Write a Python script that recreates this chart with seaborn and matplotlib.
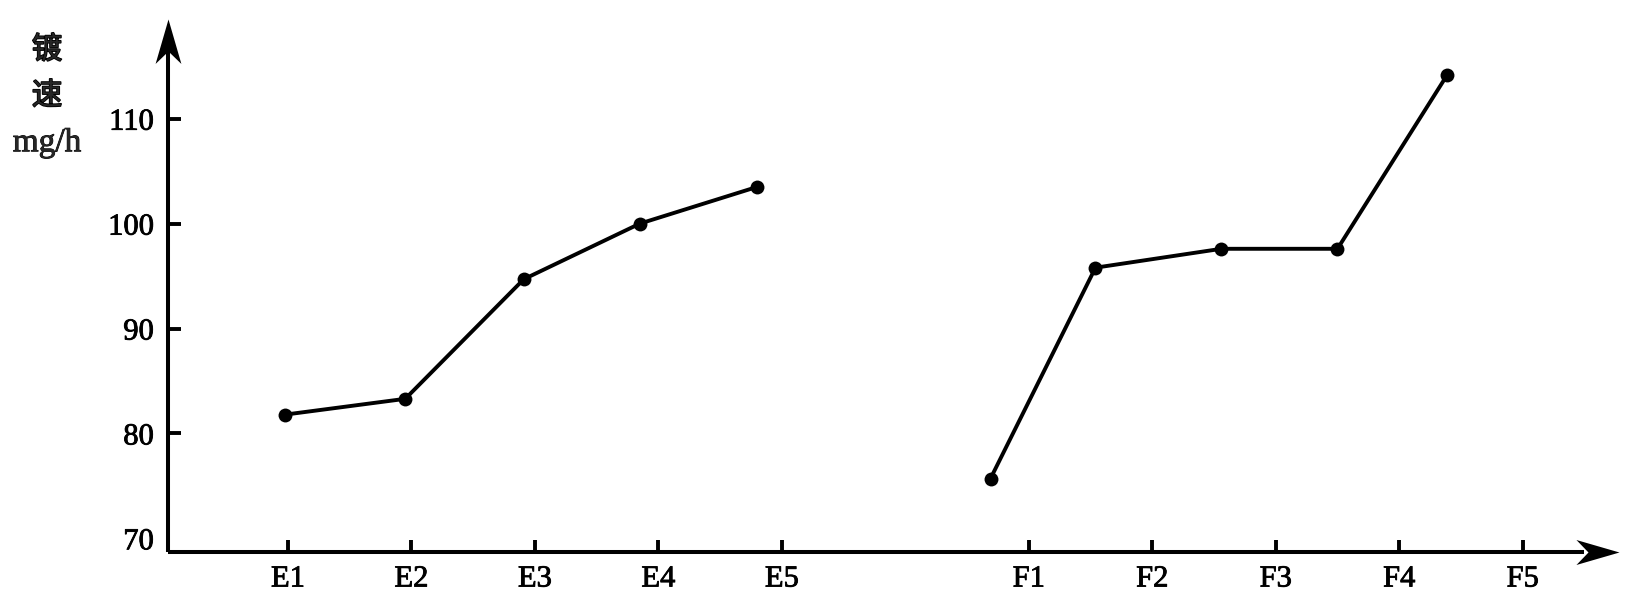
import matplotlib
matplotlib.use("Agg")
import matplotlib.pyplot as plt
import matplotlib.patheffects as pe
from matplotlib.path import Path
import seaborn as sns
import pandas as pd

# tick categories (E1..E5, gap, F1..F5)
tick_labels = ["E1", "E2", "E3", "E4", "E5", "F1", "F2", "F3", "F4", "F5"]
tick_pos = [1, 2, 3, 4, 5, 7, 8, 9, 10, 11]

# points sit a little left of their ticks
e_x = [0.98, 1.95, 2.91, 3.85, 4.80]
e_rate = [81.8, 83.3, 94.7, 100.0, 103.5]
f_x = [6.69, 7.54, 8.56, 9.50, 10.39]
f_rate = [75.7, 95.8, 97.6, 97.6, 114.2]

y_ticks = [70, 80, 90, 100, 110]

df = pd.DataFrame({
    "x": e_x + f_x,
    "rate": e_rate + f_rate,
    "group": ["E"] * len(e_x) + ["F"] * len(f_x),
})

sns.set_style("ticks")
plt.rcParams["font.family"] = ["Liberation Serif", "Noto Sans CJK SC", "DejaVu Sans"]
heavy = [pe.withStroke(linewidth=0.6, foreground="black")]

fig = plt.figure(figsize=(16.41, 6.06), dpi=100)
ax = fig.add_axes([0.1021, 0.0891, 0.8845, 0.8795])

sns.lineplot(data=df, x="x", y="rate", hue="group", palette=["black", "black"],
             units="group", estimator=None, marker="o", markersize=10,
             markeredgewidth=0, linewidth=2.8, legend=False, ax=ax)

ax.set_xlim(0.025, 11.78)
ax.set_ylim(68.7, 119.5)
ax.set_xticks(tick_pos)
ax.set_xticklabels(tick_labels)
ax.set_yticks(y_ticks)
ax.set_xlabel("")
ax.set_ylabel("")

for s in ["top", "right"]:
    ax.spines[s].set_visible(False)
for s in ["left", "bottom"]:
    ax.spines[s].set_linewidth(2.9)
    ax.spines[s].set_color("black")
    ax.spines[s].set_capstyle("butt")
ax.spines["left"].set_bounds(68.7, 117.0)
ax.spines["bottom"].set_bounds(0.025, 11.5)

ax.tick_params(axis="both", direction="in", length=9, width=2.8,
               labelsize=22, colors="black")
ax.tick_params(axis="y", pad=10)
ax.tick_params(axis="x", pad=9)
for lab in ax.get_xticklabels() + ax.get_yticklabels():
    lab.set_path_effects(heavy)
# the 70 label sits above the corner, without its own tick mark
ax.yaxis.get_major_ticks()[0].tick1line.set_visible(False)

# stealth arrow heads, tip at the origin of the marker
up = Path([(0, 0), (0.29, -1), (0, -0.72), (-0.29, -1), (0, 0)],
          [Path.MOVETO, Path.LINETO, Path.LINETO, Path.LINETO, Path.CLOSEPOLY])
right = Path([(0, 0), (-1, 0.29), (-0.72, 0), (-1, -0.29), (0, 0)],
             [Path.MOVETO, Path.LINETO, Path.LINETO, Path.LINETO, Path.CLOSEPOLY])
ax.plot([0], [1], marker=up, markersize=64, color="black", markeredgewidth=0,
        transform=ax.transAxes, clip_on=False)
ax.plot([1], [0], marker=right, markersize=62, color="black", markeredgewidth=0,
        transform=ax.transAxes, clip_on=False)

cjk_heavy = [pe.withStroke(linewidth=1.2, foreground="black")]
fig.text(47 / 1641, 1 - 50 / 606, "镀", ha="center", va="center", fontsize=22,
         family=["Noto Sans CJK SC"], path_effects=cjk_heavy)
fig.text(47 / 1641, 1 - 96 / 606, "速", ha="center", va="center", fontsize=22,
         family=["Noto Sans CJK SC"], path_effects=cjk_heavy)
fig.text(47 / 1641, 1 - 143 / 606, "mg/h", ha="center", va="center", fontsize=24,
         path_effects=heavy)

fig.savefig("out.png", dpi=100, facecolor="white")
